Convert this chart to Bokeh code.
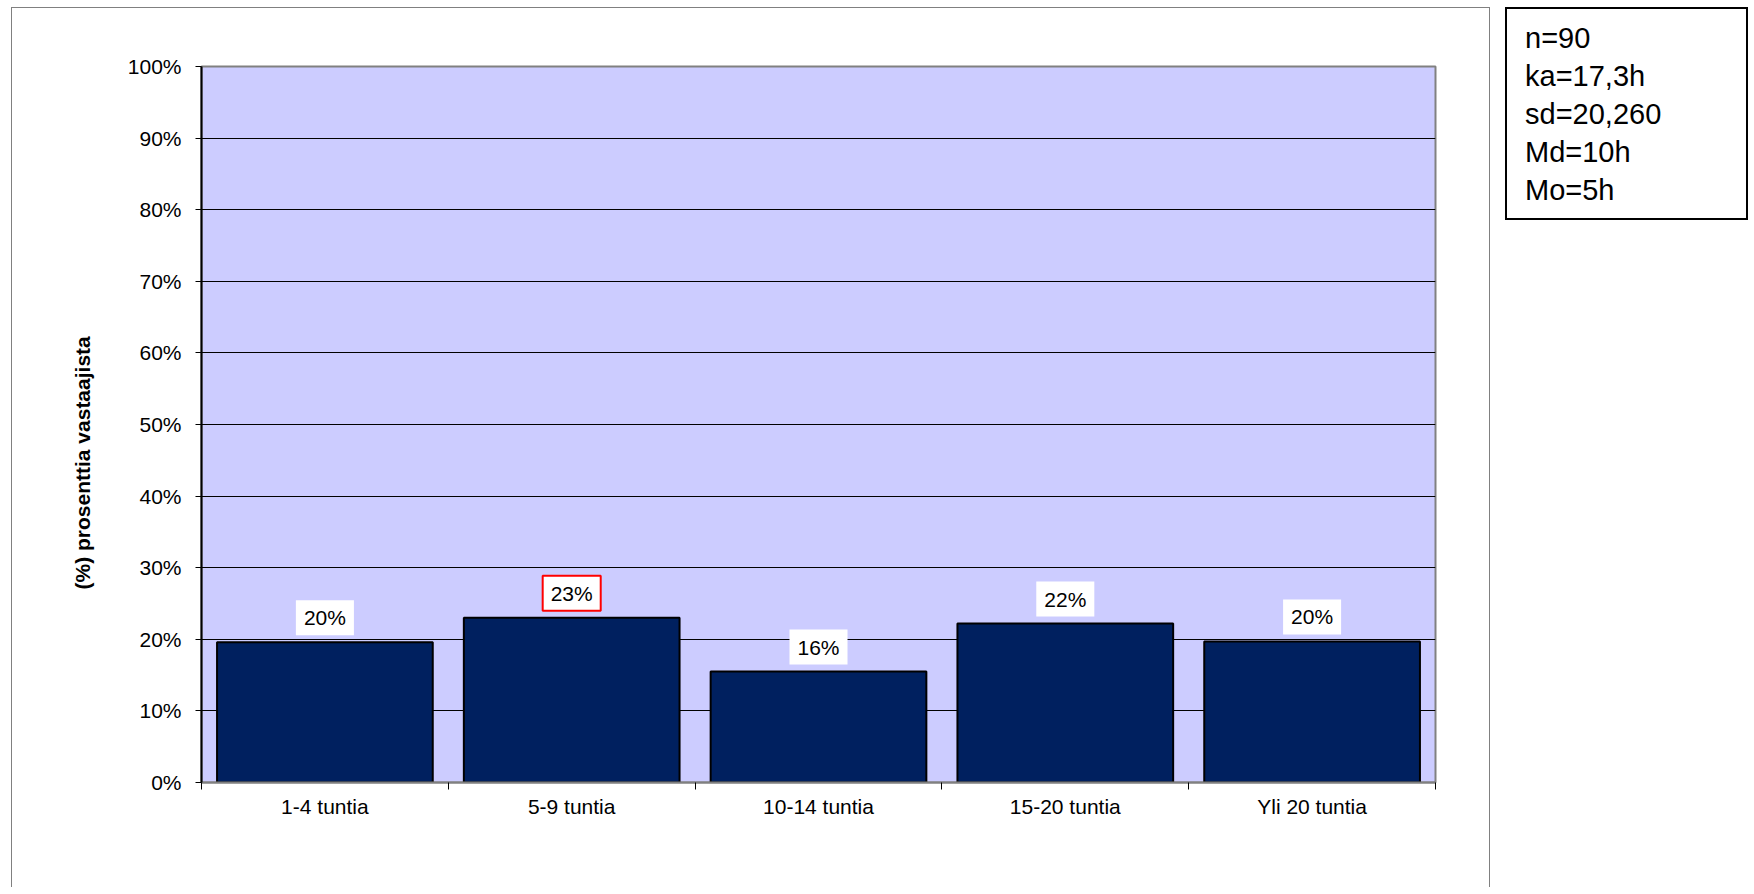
from bokeh.plotting import figure
from bokeh.models import ColumnDataSource, FixedTicker, PrintfTickFormatter, Label, Div, Range1d, Title
from bokeh.layouts import row
from bokeh.embed import file_html
from bokeh.resources import INLINE

categories = ["1-4 tuntia", "5-9 tuntia", "10-14 tuntia", "15-20 tuntia", "Yli 20 tuntia"]
values = [19.6, 23.0, 15.5, 22.2, 19.7]
value_labels = ["20%", "23%", "16%", "22%", "20%"]
highlight = [False, True, False, False, False]
y_ticks = list(range(0, 101, 10))
stats_lines = ["n=90", "ka=17,3h", "sd=20,260", "Md=10h", "Mo=5h"]
y_title = "(%) prosenttia vastaajista"

FONT = "Liberation Sans"
xs = [i + 0.5 for i in range(len(categories))]
src = ColumnDataSource(dict(x=xs, top=values))

p = figure(width=1479, height=880, output_backend="svg", toolbar_location=None,
           x_range=Range1d(0, len(categories)), y_range=Range1d(0, 100),
           min_border_left=189, min_border_right=56, min_border_top=58, min_border_bottom=106)
p.margin = (7, 0, 0, 11)
p.styles = {"border-left": "1px solid #808080", "border-top": "1px solid #808080",
            "border-right": "1px solid #808080"}
p.background_fill_color = "#CCCCFF"
p.border_fill_color = "white"
p.outline_line_color = "#808080"
p.outline_line_width = 2

p.vbar(x="x", top="top", width=0.874, source=src, fill_color="#00205F",
       line_color="black", line_width=2)

# x axis
xa = p.xaxis[0]
xa.ticker = FixedTicker(ticks=xs, minor_ticks=list(range(len(categories) + 1)))
xa.major_label_overrides = {x: c for x, c in zip(xs, categories)}
xa.major_tick_line_color = None
xa.major_tick_out = 7
xa.major_tick_in = 0
xa.minor_tick_out = 7
xa.minor_tick_in = 0
xa.minor_tick_line_color = "black"
xa.minor_tick_line_width = 1
xa.axis_line_color = "#808080"
xa.axis_line_width = 2
xa.major_label_text_font = FONT
xa.major_label_text_font_size = "21px"
xa.major_label_text_color = "black"
xa.major_label_standoff = 5
p.xgrid.visible = False

# y axis
ya = p.yaxis[0]
ya.ticker = FixedTicker(ticks=y_ticks)
ya.formatter = PrintfTickFormatter(format="%d%%")
ya.major_tick_out = 6
ya.major_tick_in = 0
ya.minor_tick_line_color = None
ya.major_tick_line_color = "black"
ya.axis_line_color = "black"
ya.axis_line_width = 2
ya.major_label_text_font = FONT
ya.major_label_text_font_size = "21px"
ya.major_label_text_color = "black"
ya.major_label_standoff = 14
p.ygrid.ticker = FixedTicker(ticks=y_ticks)
p.ygrid.grid_line_color = "black"
p.ygrid.grid_line_width = 1

# y axis title
p.add_layout(Title(text=y_title, align="left", offset=193, standoff=62,
                   text_font=FONT, text_font_style="bold", text_font_size="21px",
                   text_color="black"), "left")

for x, v, t, h in zip(xs, values, value_labels, highlight):
    p.add_layout(Label(x=x, y=v, text=t, text_align="center", text_baseline="bottom",
                       y_offset=7, text_font=FONT, text_font_size="21px", text_color="black",
                       background_fill_color="white",
                       border_line_color="red" if h else None, border_line_width=2,
                       padding=(8, 6)))

stats = Div(text="<br>".join(stats_lines), width=243, height=213,
            styles={"border": "2px solid black", "box-sizing": "border-box",
                    "font-family": FONT, "font-size": "29px", "line-height": "38px",
                    "padding": "10px 0 0 18px", "color": "black"})
stats.margin = (7, 0, 0, 15)

layout = row(p, stats)
layout.spacing = 0
open("out.html", "w").write(file_html(layout, INLINE))
